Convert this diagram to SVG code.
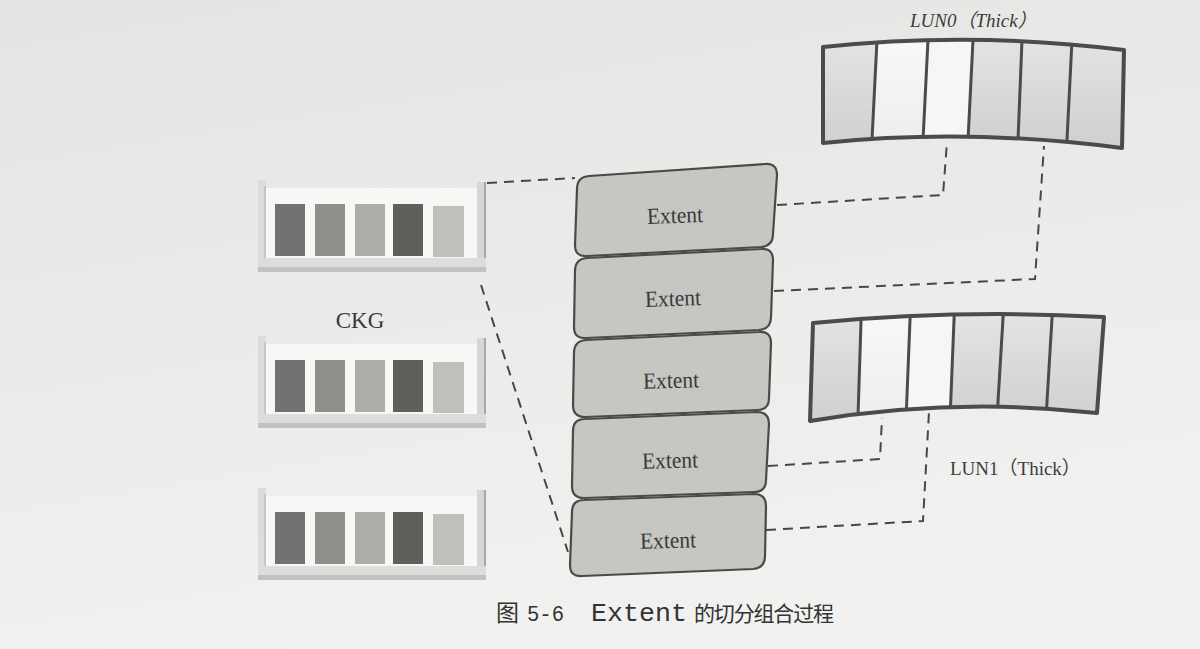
<svg xmlns="http://www.w3.org/2000/svg" xmlns:xlink="http://www.w3.org/1999/xlink" width="1200" height="649" viewBox="0 0 1200 649">
<defs>
<linearGradient id="bg" x1="0" y1="0" x2="0.3" y2="1">
<stop offset="0" stop-color="#e4e4e2"/>
<stop offset="1" stop-color="#f1f1ef"/>
</linearGradient>
<linearGradient id="cellGray" x1="0" y1="0" x2="0" y2="1">
<stop offset="0" stop-color="#e6e6e4"/>
<stop offset="1" stop-color="#cdcdcb"/>
</linearGradient>
<linearGradient id="cellWhite" x1="0" y1="0" x2="0" y2="1">
<stop offset="0" stop-color="#f9f9f7"/>
<stop offset="1" stop-color="#ececea"/>
</linearGradient>
<clipPath id="clipL0"><path d="M823,47 Q972,31 1124,50 L1122,148 Q970,128 823,143 Z"/></clipPath>
<clipPath id="clipL1"><path d="M813,323 Q958,309 1104,317 L1097,413 Q955,397 810,421 Z"/></clipPath>
<g id="trayShape">
<rect x="266" y="188" width="211" height="72" fill="#f7f7f5"/>
<rect x="258" y="180" width="8" height="92" fill="#dcdcda"/>
<rect x="264" y="186" width="2" height="74" fill="#c6c6c4"/>
<rect x="477" y="182" width="8" height="90" fill="#d6d6d4"/>
<rect x="484" y="182" width="2" height="90" fill="#a8a8a6"/>
<rect x="258" y="258" width="228" height="14" fill="#dddddb"/>
<rect x="258" y="267" width="228" height="5" fill="#c2c2c0"/>
<rect x="275" y="204" width="30" height="52" fill="#727270"/>
<rect x="315" y="204" width="30" height="52" fill="#8f8f8c"/>
<rect x="355" y="204" width="30" height="52" fill="#adadaa"/>
<rect x="393" y="204" width="30" height="52" fill="#5f5f5c"/>
<rect x="433" y="206" width="31" height="51" fill="#bfbfbc"/>
</g>
</defs>
<style>
.ext{fill:#c6c6c2;stroke:#4a4a48;stroke-width:2.2}
.et{font-family:"Liberation Serif","Times New Roman",serif;font-size:23px;fill:#3a3a3a;text-anchor:middle}
.lbl{font-family:"Liberation Serif","Noto Sans CJK SC",serif;font-size:19px;fill:#3c3c3c}
.frame{fill:none;stroke:#4b4b49;stroke-width:4;stroke-linejoin:round}
.div{stroke:#4b4b49;stroke-width:3}
.dash{fill:none;stroke:#474745;stroke-width:2;stroke-dasharray:10 7}
.cap{font-family:"Noto Sans CJK SC",sans-serif;fill:#333}
.mono{font-family:"Liberation Mono","Courier New",monospace;fill:#333}
</style>
<rect x="0" y="0" width="1200" height="649" fill="url(#bg)"/>

<g id="ckg1"><use xlink:href="#trayShape"/></g>
<g id="ckg2"><use xlink:href="#trayShape" transform="translate(0,156)"/></g>
<g id="ckg3"><use xlink:href="#trayShape" transform="translate(0,308)"/></g>
<g id="ckgLabel"><text x="360" y="328" class="et" font-size="22">CKG</text></g>

<g id="extent1">
<path class="ext" d="M589,176 L765,164 Q777,163 777,175 L773,234 Q773,246 761,247 L587,256 Q575,257 575,245 L577,189 Q577,177 589,176 Z"/>
<text class="et" x="675" y="223" textLength="56" lengthAdjust="spacingAndGlyphs" transform="rotate(-2 675 216)">Extent</text>
</g>
<g id="extent2">
<path class="ext" d="M587,258 L761,249 Q773,248 773,260 L771,317 Q771,329 759,330 L586,338 Q574,339 574,327 L575,271 Q575,259 587,258 Z"/>
<text class="et" x="673" y="306" textLength="56" lengthAdjust="spacingAndGlyphs" transform="rotate(-2 673 299)">Extent</text>
</g>
<g id="extent3">
<path class="ext" d="M586,340 L759,332 Q771,331 771,343 L769,398 Q769,410 757,410 L585,417 Q573,417 573,405 L574,353 Q574,341 586,340 Z"/>
<text class="et" x="671" y="388" textLength="56" lengthAdjust="spacingAndGlyphs" transform="rotate(-1.5 671 381)">Extent</text>
</g>
<g id="extent4">
<path class="ext" d="M585,419 L757,412 Q769,412 769,424 L766,480 Q766,492 754,492 L584,498 Q572,498 572,486 L573,431 Q573,419 585,419 Z"/>
<text class="et" x="670" y="468" textLength="56" lengthAdjust="spacingAndGlyphs" transform="rotate(-1.5 670 461)">Extent</text>
</g>
<g id="extent5">
<path class="ext" d="M584,500 L754,494 Q766,494 766,506 L765,556 Q765,568 753,569 L582,576 Q570,577 570,565 L572,512 Q572,500 584,500 Z"/>
<text class="et" x="668" y="548" textLength="56" lengthAdjust="spacingAndGlyphs" transform="rotate(-1.5 668 541)">Extent</text>
</g>

<g id="lun0">
<g clip-path="url(#clipL0)">
<rect x="815" y="25" width="320" height="135" fill="url(#cellGray)"/>
<polygon points="877.75,25 928.75,25 922,160 871,160" fill="url(#cellWhite)"/>
<polygon points="928.75,25 973.75,25 967,160 922,160" fill="#f6f6f4"/>
<line class="div" x1="877.75" y1="25" x2="871" y2="160"/>
<line class="div" x1="928.75" y1="25" x2="922" y2="160"/>
<line class="div" x1="973.75" y1="25" x2="967" y2="160"/>
<line class="div" x1="1022.6" y1="25" x2="1017.2" y2="160"/>
<line class="div" x1="1072.75" y1="25" x2="1066" y2="160"/>
</g>
<path class="frame" d="M823,47 Q972,31 1124,50 L1122,148 Q970,128 823,143 Z"/>
<text class="lbl" x="910" y="27" font-style="italic">LUN0（Thick）</text>
</g>

<g id="lun1">
<g clip-path="url(#clipL1)">
<rect x="805" y="300" width="310" height="135" fill="url(#cellGray)"/>
<polygon points="861.7,300 910.8,300 905.4,435 857.4,435" fill="url(#cellWhite)"/>
<polygon points="910.8,300 954.8,300 949.4,435 905.4,435" fill="#f6f6f4"/>
<line class="div" x1="861.7" y1="300" x2="857.4" y2="435"/>
<line class="div" x1="910.8" y1="300" x2="905.4" y2="435"/>
<line class="div" x1="954.8" y1="300" x2="949.4" y2="435"/>
<line class="div" x1="1004.1" y1="300" x2="996" y2="435"/>
<line class="div" x1="1053.1" y1="300" x2="1045" y2="435"/>
</g>
<path class="frame" d="M813,323 Q958,309 1104,317 L1097,413 Q955,397 810,421 Z"/>
<text class="lbl" x="950" y="475">LUN1（Thick）</text>
</g>

<g id="connectors">
<path class="dash" d="M487,183 L575,178"/>
<path class="dash" d="M481,285 L568,552"/>
<path class="dash" d="M777,205 L943,195 L947,142"/>
<path class="dash" d="M774,291 L1035,279 L1044,146"/>
<path class="dash" d="M768,466 L880,459 L882,418"/>
<path class="dash" d="M766,530 L923,521 L929,412"/>
</g>

<g id="caption">
<text class="cap" x="496" y="621" font-size="23">图</text>
<text class="mono" x="527" y="621" font-size="22" textLength="37" lengthAdjust="spacingAndGlyphs">5-6</text>
<text class="mono" x="591" y="621" font-size="26" textLength="96" lengthAdjust="spacingAndGlyphs">Extent</text>
<text class="cap" x="694" y="621" font-size="21" textLength="140" lengthAdjust="spacing">的切分组合过程</text>
</g>
</svg>
